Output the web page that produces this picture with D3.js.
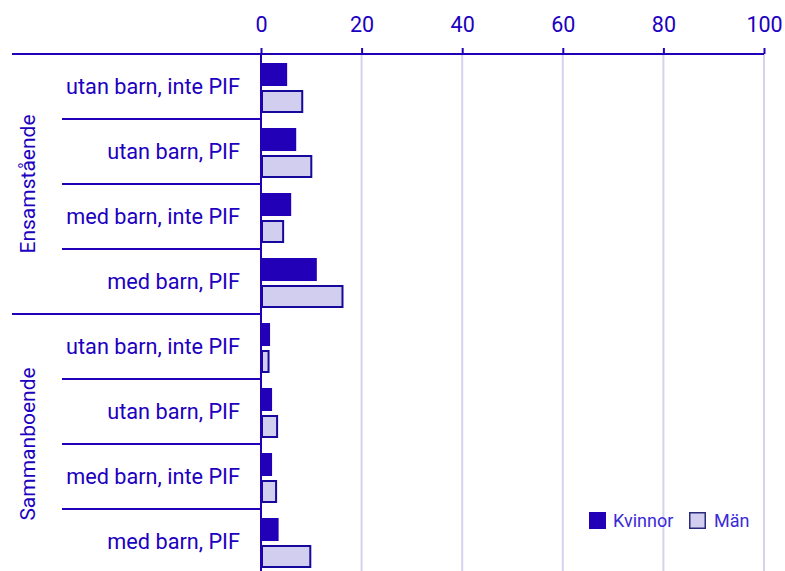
<!DOCTYPE html>
<html><head><meta charset="utf-8">
<script src="https://cdn.jsdelivr.net/npm/d3@7"></script>
<style>body{margin:0;background:#fff}svg{display:block}text{font-family:Roboto,"Noto Sans",sans-serif}</style>
</head><body><svg id="c" width="785" height="571"></svg>
<script>
const groups = ["Ensamstående","Sammanboende"];
const categories = ["utan barn, inte PIF","utan barn, PIF","med barn, inte PIF","med barn, PIF"];
const series = ["Kvinnor","Män"];
const kvinnor = [5.2,7.0,6.0,11.1, 1.8,2.2,2.2,3.5];
const man = [8.2,10.0,4.4,16.2, 1.5,3.2,3.0,9.8];
const xTicks = [0,20,40,60,80,100];

const textCol = "#2000c0", axisCol = "#2200b8", gridCol = "#d4d2ee";
const fillK = "#2200b8", fillM = "#d2cef0", strokeB = "#15089a";

const svg = d3.select("#c");
const x = d3.scaleLinear().domain([0,100]).range([261,764]);
const rows = [];
groups.forEach((g,gi)=>categories.forEach((c,ci)=>rows.push({g,c,i:gi*4+ci,k:kvinnor[gi*4+ci],m:man[gi*4+ci]})));
const y = d3.scaleBand().domain(rows.map(r=>r.i)).range([54,574]);
const yb = d3.scaleBand().domain(series).range([0,y.bandwidth()]).paddingInner(0.148).paddingOuter(0.278).align(0.6);

// gridlines
svg.append("g").selectAll("line").data(xTicks.filter(t=>t>0)).join("line")
  .attr("x1",d=>x(d)).attr("x2",d=>x(d)).attr("y1",54).attr("y2",571)
  .attr("stroke",gridCol).attr("stroke-width",2);

// top axis
const ax = svg.append("g").attr("transform","translate(0,54)")
  .call(d3.axisTop(x).tickValues(xTicks).tickSize(6).tickPadding(16).tickFormat(d3.format("d")));
ax.select(".domain").remove();
ax.selectAll("line").attr("stroke",axisCol).attr("stroke-width",2);
ax.selectAll("text").attr("fill",textCol).attr("font-size",21.5);
svg.append("line").attr("x1",12).attr("x2",764).attr("y1",54).attr("y2",54).attr("stroke",axisCol).attr("stroke-width",2);

// row separators
svg.append("g").selectAll("line").data(rows.slice(1)).join("line")
  .attr("x1",d=>d.i%4===0?12:62).attr("x2",261)
  .attr("y1",d=>y(d.i)).attr("y2",d=>y(d.i))
  .attr("stroke",axisCol).attr("stroke-width",2);

// bars
const bars = svg.append("g");
bars.selectAll("rect.k").data(rows).join("rect").attr("class","k")
  .attr("x",x(0)).attr("y",d=>y(d.i)+yb("Kvinnor")).attr("height",yb.bandwidth())
  .attr("width",d=>x(d.k)-x(0)).attr("fill",fillK);
bars.selectAll("rect.m").data(rows).join("rect").attr("class","m")
  .attr("x",x(0)+1).attr("y",d=>y(d.i)+yb("Män")+1).attr("height",yb.bandwidth()-2)
  .attr("width",d=>x(d.m)-x(0)-1).attr("fill",fillM).attr("stroke",strokeB).attr("stroke-width",2);

// vertical axis
svg.append("line").attr("x1",261).attr("x2",261).attr("y1",54).attr("y2",571).attr("stroke",axisCol).attr("stroke-width",2);

// category labels
svg.append("g").selectAll("text").data(rows).join("text")
  .attr("x",240).attr("y",d=>y(d.i)+y.bandwidth()/2).attr("dy","0.35em")
  .attr("text-anchor","end").attr("fill",textCol).attr("font-size",21.7).text(d=>d.c);

// group labels
svg.append("g").selectAll("text").data(groups).join("text")
  .attr("transform",(d,i)=>`translate(28,${(y(i*4)+y(i*4+3)+y.bandwidth())/2}) rotate(-90)`)
  .attr("dy","0.35em").attr("text-anchor","middle").attr("fill",textCol).attr("font-size",21).text(d=>d);

// legend
const lg = svg.append("g");
const legX = [589,689];
series.forEach((s,i)=>{
  lg.append("rect").attr("x",legX[i]+0.75).attr("y",512.75).attr("width",15.5).attr("height",15.5)
    .attr("fill",i?fillM:fillK).attr("stroke",i?"#2a2a7a":fillK).attr("stroke-width",1.5);
  lg.append("text").attr("x",legX[i]+(i?25:24)).attr("y",521).attr("dy","0.35em")
    .attr("fill","#3a2ad8").attr("font-size",18).text(s);
});
</script></body></html>
